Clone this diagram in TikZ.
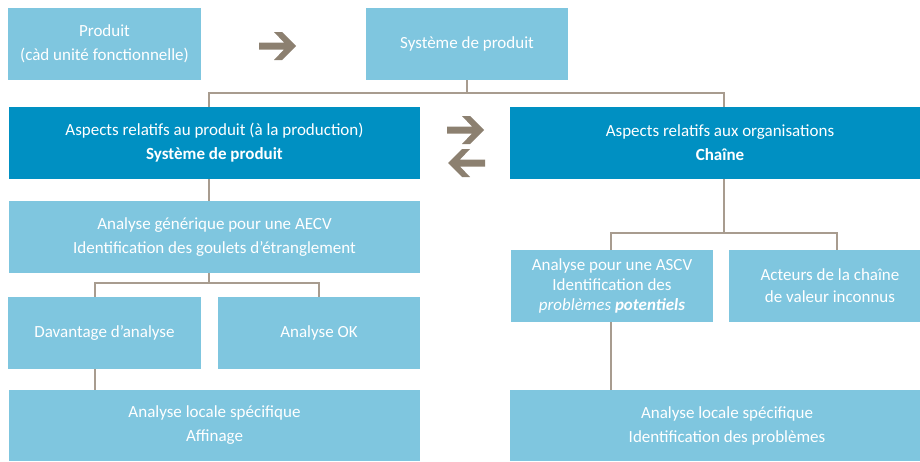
\documentclass[tikz,border=0pt]{standalone}
\usepackage{fontspec}
\setmainfont{Carlito}
\definecolor{lblue}{HTML}{7FC6DF}
\definecolor{dblue}{HTML}{0090C2}
\definecolor{connc}{HTML}{A89C8F}
\definecolor{arrowc}{HTML}{8C8070}
\begin{document}
\begin{tikzpicture}[x=1pt,y=-1pt,
  boxbase/.style={rectangle, inner sep=0pt, text=white, align=center,
    font=\fontsize{17}{24}\selectfont},
  lbox/.style={boxbase, fill=lblue},
  dbox/.style={boxbase, fill=dblue},
  conn/.style={draw=connc, line width=1.5pt},
  garrow/.pic={\fill[arrowc] (0,0) -- (-14,-14) -- (-22,-14) -- (-12,-3.5) -- (-37,-3.5)
     -- (-37,3.5) -- (-12,3.5) -- (-22,14) -- (-14,14) -- cycle;}]
\useasboundingbox (0,0) rectangle (920,461);
\clip (0,0) rectangle (920,461);
\fill[white] (0,0) rectangle (920,461);

% boxes
\node[lbox, minimum width=193pt, minimum height=72pt] (prod) at (104.5,44) {Produit\\(càd unité fonctionnelle)};
\node[lbox, minimum width=202pt, minimum height=72pt] (sys) at (467,44) {Système de produit};
\node[dbox, minimum width=411pt, minimum height=72pt] (asp) at (214.5,143) {Aspects relatifs au produit (à la production)\\\textbf{Système de produit}};
\node[dbox, minimum width=420pt, minimum height=72pt] (org) at (720,143) {Aspects relatifs aux organisations\\\textbf{Chaîne}};
\node[lbox, minimum width=411pt, minimum height=72pt] (gen) at (214.5,237) {Analyse générique pour une AECV\\Identification des goulets d’étranglement};
\node[lbox, minimum width=193pt, minimum height=72pt] (dav) at (104.5,333) {Davantage d’analyse};
\node[lbox, minimum width=202pt, minimum height=72pt] (ok) at (319,333) {Analyse OK};
\node[lbox, minimum width=411pt, minimum height=71pt] (locL) at (214.5,425.5) {Analyse locale spécifique\\Affinage};
\node[lbox, minimum width=202pt, minimum height=72pt, font=\fontsize{17}{20}\selectfont] (ascv) at (612,286) {Analyse pour une ASCV\\Identification des\\\textit{problèmes} \textbf{\textit{potentiels}}};
\node[lbox, minimum width=202pt, minimum height=72pt, font=\fontsize{17}{22}\selectfont] (act) at (830,286) {Acteurs de la chaîne\\de valeur inconnus};
\node[lbox, minimum width=434pt, minimum height=71pt] (locR) at (727,425.5) {Analyse locale spécifique\\Identification des problèmes};

% connectors
\coordinate (j1) at (467,93);
\draw[conn] (sys.south) -- (j1);
\draw[conn] ([xshift=-5.5pt]asp.north) |- (j1) -| ([xshift=4pt]org.north);
\draw[conn] ([xshift=-5.5pt]asp.south) -- ([xshift=-5.5pt]gen.north);
\coordinate (j2) at (209,283);
\draw[conn] ([xshift=-5.5pt]gen.south) -- (j2);
\draw[conn] ([xshift=-9.5pt]dav.north) |- (j2) -| (ok.north);
\draw[conn] ([xshift=-9.5pt]dav.south) -- ([xshift=-9.5pt]dav.south |- locL.north);
\coordinate (j3) at (724,233);
\draw[conn] ([xshift=4pt]org.south) -- (j3);
\draw[conn] ([xshift=-1pt]ascv.north) |- (j3) -| ([xshift=7pt]act.north);
\draw[conn] ([xshift=-1pt]ascv.south) -- ([xshift=-1pt]ascv.south |- locR.north);

% arrows
\pic at (296,46) {garrow};
\pic at (484,130) {garrow};
\pic[xscale=-1] at (448,163) {garrow};
\end{tikzpicture}
\end{document}
